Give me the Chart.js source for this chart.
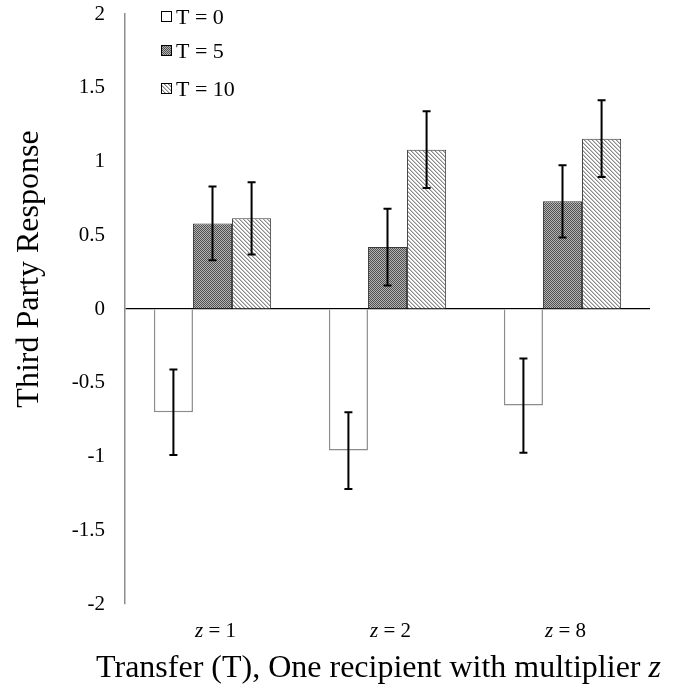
<!DOCTYPE html>
<html>
<head>
<meta charset="utf-8">
<script src="https://cdn.jsdelivr.net/npm/chart.js@4.4.1/dist/chart.umd.min.js"></script>
<style>
  html, body { margin: 0; padding: 0; background: #fff; }
  #wrap { width: 675px; height: 688px; }
</style>
</head>
<body>
<div id="wrap"><canvas id="chart" width="675" height="688"></canvas></div>
<script>
// Data
const categories = ['1', '2', '8'];
const seriesNames = ['T = 0', 'T = 5', 'T = 10'];
const t0 = [-0.70, -0.96, -0.655];
const t5 = [0.58, 0.42, 0.73];
const t10 = [0.615, 1.08, 1.155];
const t0Err = [0.29, 0.26, 0.32];
const t5Err = [0.25, 0.26, 0.245];
const t10Err = [0.245, 0.26, 0.26];
const yTicks = [-2, -1.5, -1, -0.5, 0, 0.5, 1, 1.5, 2];
const yTitle = 'Third Party Response';
const xTitle = 'Transfer (T), One recipient with multiplier ';

const SERIF = '"Liberation Serif", "Times New Roman", serif';

// Patterns
function checkerPattern() {
  const c = document.createElement('canvas'); c.width = 2; c.height = 2;
  const g = c.getContext('2d');
  g.fillStyle = '#b4b4b4'; g.fillRect(0, 0, 2, 2);
  g.fillStyle = '#505050'; g.fillRect(0, 0, 1, 1); g.fillRect(1, 1, 1, 1);
  return g.createPattern(c, 'repeat');
}
function hatchPattern() {
  const c = document.createElement('canvas'); c.width = 4; c.height = 4;
  const g = c.getContext('2d');
  g.fillStyle = '#ffffff'; g.fillRect(0, 0, 4, 4);
  g.fillStyle = '#8a8a8a';
  for (let i = 0; i < 4; i++) g.fillRect(i, i, 1, 1);
  g.fillStyle = '#c8c8c8';
  for (let i = 0; i < 4; i++) g.fillRect((i + 1) % 4, i, 1, 1);
  return g.createPattern(c, 'repeat');
}
const fills = ['#ffffff', checkerPattern(), hatchPattern()];
const borders = ['#8c8c8c', '#3a3a3a', '#3a3a3a'];
const errs = [t0Err, t5Err, t10Err];

// error bars, legend, custom axis text
const extras = {
  id: 'extras',
  afterDatasetsDraw(chart) {
    const c = chart.ctx;
    const y = chart.scales.y, x = chart.scales.x;
    c.save();
    // error bars
    c.strokeStyle = '#000'; c.lineWidth = 2;
    chart.data.datasets.forEach((ds, di) => {
      chart.getDatasetMeta(di).data.forEach((bar, i) => {
        const v = ds.data[i], e = errs[di][i];
        const top = y.getPixelForValue(v + e), bot = y.getPixelForValue(v - e);
        c.beginPath();
        c.moveTo(bar.x, top); c.lineTo(bar.x, bot);
        c.moveTo(bar.x - 4, top); c.lineTo(bar.x + 4, top);
        c.moveTo(bar.x - 4, bot); c.lineTo(bar.x + 4, bot);
        c.stroke();
      });
    });
    // legend
    const lx = 161, ly = [17, 51, 89];
    c.font = '22px ' + SERIF; c.textBaseline = 'middle'; c.textAlign = 'left';
    seriesNames.forEach((n, i) => {
      c.fillStyle = fills[i]; c.fillRect(lx, ly[i] - 6, 11, 11);
      c.strokeStyle = '#000'; c.lineWidth = 1; c.strokeRect(lx + 0.5, ly[i] - 5.5, 10, 10);
      c.fillStyle = '#000'; c.fillText(n, lx + 15, ly[i] + 1);
    });
    // category labels with italic z
    c.textBaseline = 'alphabetic';
    categories.forEach((cat, i) => {
      const cx = x.getPixelForValue(i);
      c.font = 'italic 21px ' + SERIF;
      const w1 = c.measureText('z').width;
      c.font = '21px ' + SERIF;
      const rest = ' = ' + cat;
      const w2 = c.measureText(rest).width;
      const sx = cx - (w1 + w2) / 2 + 3;
      c.font = 'italic 21px ' + SERIF; c.fillText('z', sx, 637);
      c.font = '21px ' + SERIF; c.fillText(rest, sx + w1, 637);
    });
    // x title
    c.font = '32px ' + SERIF;
    const wa = c.measureText(xTitle).width;
    c.font = 'italic 32px ' + SERIF;
    const wb = c.measureText('z').width;
    const tx = 100 + (557 - wa - wb) / 2;
    c.font = '32px ' + SERIF; c.fillText(xTitle, tx, 677);
    c.font = 'italic 32px ' + SERIF; c.fillText('z', tx + wa, 677);
    // y title
    c.translate(30, 269); c.rotate(-Math.PI / 2);
    c.font = '32px ' + SERIF; c.textAlign = 'center'; c.textBaseline = 'middle';
    c.fillText(yTitle, 0, 0);
    c.restore();
  }
};

const ctx = document.getElementById('chart').getContext('2d');
const chart = new Chart(ctx, {
  type: 'bar',
  data: {
    labels: categories,
    datasets: [
      { label: seriesNames[0], data: t0, backgroundColor: fills[0], borderColor: borders[0], borderWidth: 1.5 },
      { label: seriesNames[1], data: t5, backgroundColor: fills[1], borderColor: borders[1], borderWidth: 1 },
      { label: seriesNames[2], data: t10, backgroundColor: fills[2], borderColor: borders[2], borderWidth: 1 }
    ]
  },
  options: {
    responsive: false,
    animation: false,
    layout: { padding: { top: 14, right: 25, bottom: 84, left: 0 } },
    datasets: { bar: { categoryPercentage: 0.67, barPercentage: 1.0 } },
    plugins: { legend: { display: false }, tooltip: { enabled: false } },
    scales: {
      x: { display: false },
      y: {
        min: -2, max: 2,
        afterFit(s) { s.width = 125; s.paddingTop = 0; s.paddingBottom = 0; },
        afterBuildTicks(s) { s.ticks = yTicks.map(v => ({ value: v })); },
        ticks: { color: '#000', padding: 20, font: { family: SERIF, size: 21 }, callback: v => String(v) },
        border: { display: true, color: '#8c8c8c', width: 1.5 },
        grid: {
          drawTicks: false,
          color: c => c.tick && c.tick.value === 0 ? '#000' : 'rgba(0,0,0,0)',
          lineWidth: 1.2
        }
      }
    }
  },
  plugins: [extras]
});
</script>
</body>
</html>
